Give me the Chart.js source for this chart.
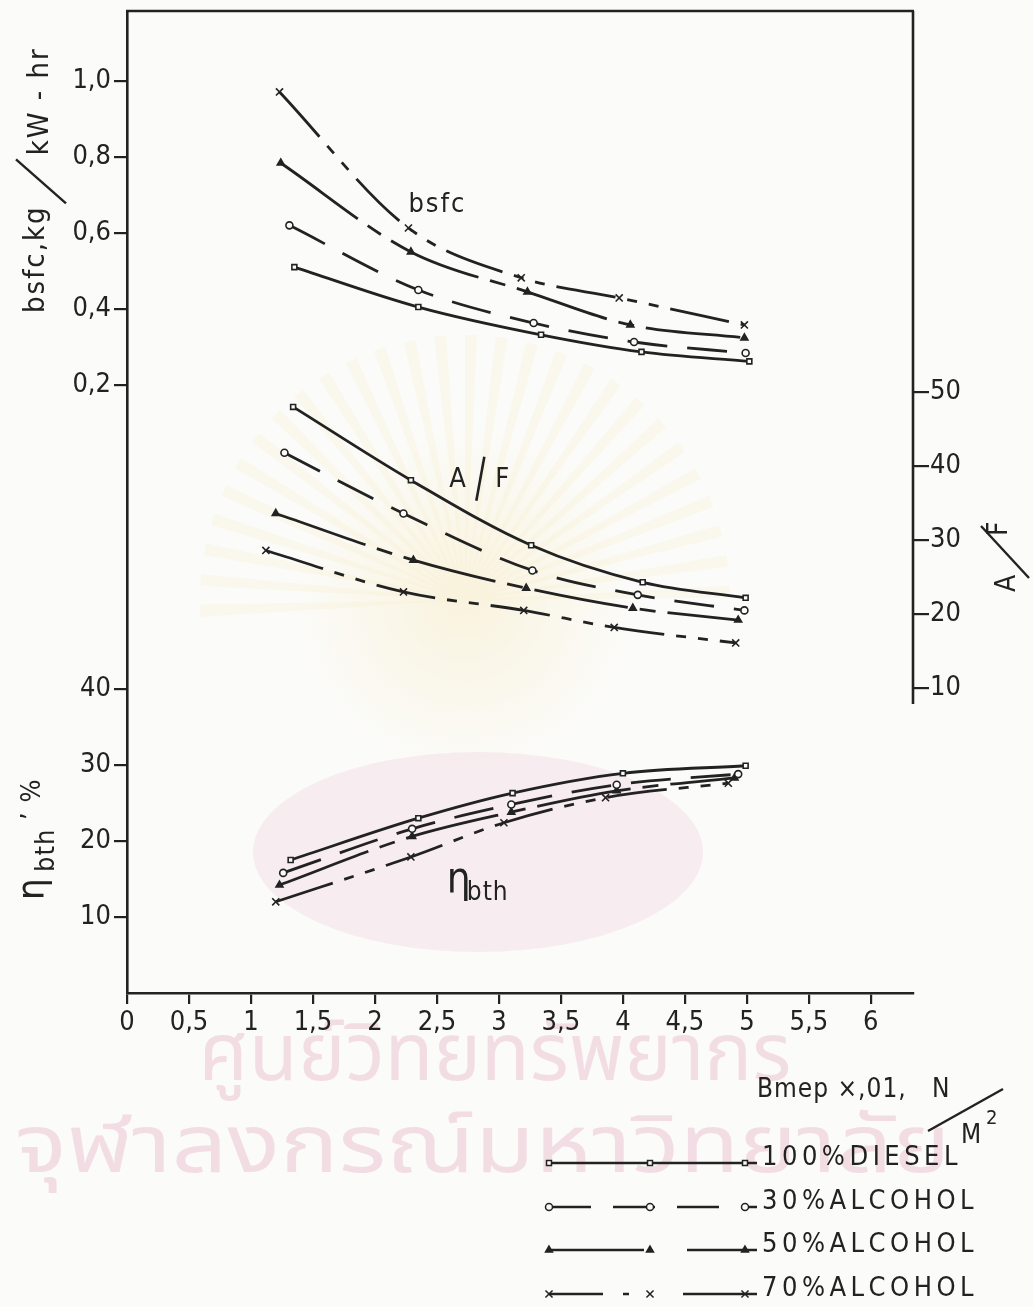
<!DOCTYPE html>
<html><head><meta charset="utf-8">
<script src="https://cdn.jsdelivr.net/npm/chart.js@4.4.1/dist/chart.umd.min.js"></script>
<style>
html,body{margin:0;padding:0;background:#fbfbf9;}
#wrap{position:relative;width:1033px;height:1307px;}
</style></head><body>
<div id="wrap"><canvas id="c" width="1033" height="1307"></canvas></div>
<script>
// ---------------- DATA ----------------
const seriesNames = ['100%DIESEL', '30%ALCOHOL', '50%ALCOHOL', '70%ALCOHOL'];
const xTicks   = [0, 0.5, 1, 1.5, 2, 2.5, 3, 3.5, 4, 4.5, 5, 5.5, 6];
const etaTicks = [10, 20, 30, 40];
const bsfcTicks = [0.2, 0.4, 0.6, 0.8, 1.0];
const afTicks  = [10, 20, 30, 40, 50];

// bsfc, kg/kW-hr
const bsfcX_diesel = [1.35, 2.35, 3.34, 4.15, 5.02];
const bsfc_diesel  = [0.51, 0.405, 0.332, 0.287, 0.262];
const bsfcX_alc30  = [1.31, 2.35, 3.28, 4.09, 4.99];
const bsfc_alc30   = [0.62, 0.45, 0.363, 0.313, 0.284];
const bsfcX_alc50  = [1.24, 2.29, 3.23, 4.06, 4.98];
const bsfc_alc50   = [0.784, 0.55, 0.445, 0.358, 0.324];
const bsfcX_alc70  = [1.23, 2.27, 3.18, 3.97, 4.98];
const bsfc_alc70   = [0.971, 0.613, 0.482, 0.429, 0.358];

// A/F
const afX_diesel = [1.34, 2.29, 3.26, 4.16, 4.99];
const af_diesel  = [48.0, 38.1, 29.3, 24.3, 22.2];
const afX_alc30  = [1.27, 2.23, 3.27, 4.12, 4.98];
const af_alc30   = [41.8, 33.6, 25.9, 22.6, 20.5];
const afX_alc50  = [1.20, 2.31, 3.22, 4.08, 4.93];
const af_alc50   = [33.6, 27.3, 23.5, 20.8, 19.2];
const afX_alc70  = [1.12, 2.23, 3.20, 3.93, 4.91];
const af_alc70   = [28.6, 23.0, 20.5, 18.2, 16.1];

// eta_bth, %
const etaX_diesel = [1.32, 2.35, 3.11, 4.00, 4.99];
const eta_diesel  = [17.5, 23.0, 26.3, 28.9, 29.9];
const etaX_alc30  = [1.26, 2.30, 3.10, 3.95, 4.93];
const eta_alc30   = [15.8, 21.6, 24.8, 27.4, 28.8];
const etaX_alc50  = [1.23, 2.30, 3.10, 3.95, 4.90];
const eta_alc50   = [14.2, 20.6, 23.8, 26.6, 28.3];
const etaX_alc70  = [1.20, 2.29, 3.04, 3.86, 4.85];
const eta_alc70   = [12.0, 17.9, 22.4, 25.7, 27.6];

const wmLine1 = 'ศูนย์วิทยทรัพยากร';
const wmLine2 = 'จุฬาลงกรณ์มหาวิทยาลัย';

// ---------------- STYLE ----------------
const ink = '#222222', bg = '#fbfbf9';
const FONT = '"DejaVu Sans Condensed", "DejaVu Sans", sans-serif';
// left axis: eta units; bsfc shares it: bsfc = (eta - 70) * 0.02
const ETA_MAX = 129.2;
const etaToBsfc = v => (v - 70) * 0.02;
const styles = [
  {dash: [], legendDash: [], point: 'rect', r: 3.5, fill: bg},
  {dash: [40, 20], legendDash: [42, 22], point: 'circle', r: 3.5, fill: bg},
  {dash: [95, 12, 16, 12], legendDash: [95, 43, 80], point: 'triangle', r: 4, fill: ink},
  {dash: [60, 12, 10, 12, 10, 12], legendDash: [54, 20, 6, 54, 80], point: 'crossRot', r: 5, fill: ink}
];
const pts = (xs, ys) => xs.map((x, i) => ({x, y: ys[i]}));
const groups = [
  {axis: 'yB', xs: [bsfcX_diesel, bsfcX_alc30, bsfcX_alc50, bsfcX_alc70], ys: [bsfc_diesel, bsfc_alc30, bsfc_alc50, bsfc_alc70]},
  {axis: 'yR', xs: [afX_diesel, afX_alc30, afX_alc50, afX_alc70], ys: [af_diesel, af_alc30, af_alc50, af_alc70]},
  {axis: 'yL', xs: [etaX_diesel, etaX_alc30, etaX_alc50, etaX_alc70], ys: [eta_diesel, eta_alc30, eta_alc50, eta_alc70]}
];
const datasets = [];
groups.forEach(g => {
  seriesNames.forEach((name, i) => {
    const s = styles[i];
    datasets.push({
      label: name, yAxisID: g.axis, data: pts(g.xs[i], g.ys[i]),
      borderColor: ink, borderWidth: 2.8, borderDash: s.dash,
      pointStyle: s.point, pointRadius: s.r, pointBorderWidth: 1.6,
      pointBackgroundColor: s.fill, pointBorderColor: ink,
      cubicInterpolationMode: 'monotone', fill: false
    });
  });
});

// ---------------- PLUGINS ----------------
const wmPlugin = {
  id: 'wm',
  beforeDraw(chart) {
    const ctx = chart.ctx;
    ctx.save();
    ctx.fillStyle = bg; ctx.fillRect(0, 0, chart.width, chart.height);
    // faint sun rays
    const cx = 465, cy = 600;
    for (let k = 0; k < 28; k++) {
      const a0 = Math.PI * 0.98 + k * Math.PI * 1.04 / 28, a1 = a0 + Math.PI / 70;
      ctx.fillStyle = 'rgba(249,238,205,0.3)';
      ctx.beginPath(); ctx.moveTo(cx, cy);
      ctx.arc(cx, cy, 265, a0, a1); ctx.closePath(); ctx.fill();
    }
    let g = ctx.createRadialGradient(cx, cy, 10, cx, cy, 170);
    g.addColorStop(0, 'rgba(248,238,205,0.6)'); g.addColorStop(1, 'rgba(248,238,205,0)');
    ctx.fillStyle = g; ctx.fillRect(cx - 180, cy - 180, 360, 360);
    // pink ellipse
    ctx.fillStyle = 'rgba(240,205,218,0.32)';
    ctx.beginPath(); ctx.ellipse(478, 852, 225, 100, 0, 0, Math.PI * 2); ctx.fill();
    // Thai watermark
    ctx.fillStyle = 'rgba(236,196,212,0.55)';
    ctx.font = '80px "Noto Sans Thai", "Noto Sans", "DejaVu Sans", sans-serif';
    ctx.textAlign = 'center'; ctx.textBaseline = 'alphabetic';
    ctx.fillText(wmLine1, 495, 1080);
    ctx.textAlign = 'left';
    ctx.save(); ctx.translate(15, 1172); ctx.scale(1.22, 1);
    ctx.fillText(wmLine2, 0, 0);
    ctx.restore();
    ctx.restore();
  }
};

function rot(ctx, x, y, fn) { ctx.save(); ctx.translate(x, y); ctx.rotate(-Math.PI / 2); fn(); ctx.restore(); }
function line(ctx, x1, y1, x2, y2, w) { ctx.lineWidth = w || 2; ctx.beginPath(); ctx.moveTo(x1, y1); ctx.lineTo(x2, y2); ctx.stroke(); }

const annoPlugin = {
  id: 'anno',
  afterDraw(chart) {
    const ctx = chart.ctx, a = chart.chartArea, sx = chart.scales.x, sL = chart.scales.yL, sB = chart.scales.yB, sR = chart.scales.yR;
    ctx.save();
    ctx.strokeStyle = ink; ctx.fillStyle = ink; ctx.setLineDash([]);
    // frame: top and partial right
    line(ctx, a.left - 1, a.top, a.right + 1, a.top, 2.6);
    line(ctx, a.right, a.top, a.right, sR.getPixelForValue(10) + 16, 2.6);
    ctx.textBaseline = 'alphabetic'; ctx.textAlign = 'left';
    // inline labels
    ctx.font = '27px ' + FONT; ctx.letterSpacing = '2px';
    ctx.fillText('bsfc', sx.getPixelForValue(2.27), sB.getPixelForValue(0.655));
    const ax = sx.getPixelForValue(2.6), ay = sR.getPixelForValue(37.2);
    ctx.fillText('A', ax, ay);
    line(ctx, ax + 35, ay - 30, ax + 27, ay + 14, 2.6);
    ctx.fillText('F', ax + 46, ay);
    const ex = sx.getPixelForValue(2.58), ey = sL.getPixelForValue(12.2);
    ctx.font = '42px ' + FONT; ctx.letterSpacing = '0px';
    ctx.fillText('η', ex, ey - 8);
    ctx.font = '26px ' + FONT; ctx.letterSpacing = '1px';
    ctx.fillText('bth', ex + 20, ey);
    // left axis title (bsfc)
    rot(ctx, 44, 313, () => {
      ctx.font = '29px ' + FONT; ctx.letterSpacing = '2px';
      ctx.fillText('bsfc,kg', 0, 0);
      const w = ctx.measureText('bsfc,kg').width;
      line(ctx, w + 2, 22, w + 46, -28, 2.4);
      ctx.fillText('kW - hr', w + 50, 4);
    });
    // left axis title (eta)
    rot(ctx, 50, 900, () => {
      ctx.font = '38px ' + FONT; ctx.letterSpacing = '0px';
      ctx.fillText('η', 0, -6);
      ctx.font = '27px ' + FONT; ctx.letterSpacing = '1px';
      ctx.fillText('bth', 28, 4);
      ctx.fillText('’ %', 80, -10);
    });
    // right axis title A/F
    rot(ctx, 1015, 592, () => {
      ctx.font = '28px ' + FONT; ctx.letterSpacing = '0px';
      ctx.fillText('A', 0, 0);
      line(ctx, 14, 14, 66, -34, 2.4);
      ctx.fillText('F', 56, -8);
    });
    // x axis title
    ctx.font = '26px ' + FONT; ctx.letterSpacing = '1px';
    ctx.fillText('Bmep ×,01,   N', 757, 1097);
    line(ctx, 928, 1131, 1003, 1089, 2.4);
    ctx.fillText('M', 961, 1143);
    ctx.font = '20px ' + FONT;
    ctx.fillText('2', 986, 1124);
    // legend
    const ly = [1163, 1207, 1250, 1294];
    const markX = [549, 650, 745];
    seriesNames.forEach((name, i) => {
      const ds = chart.data.datasets[i];
      ctx.strokeStyle = ink;
      ctx.setLineDash(styles[i].legendDash);
      line(ctx, 549, ly[i], 757, ly[i], 2.4);
      ctx.setLineDash([]);
      markX.forEach(mx => {
        ctx.fillStyle = ds.pointBackgroundColor; ctx.strokeStyle = ink; ctx.lineWidth = 1.5;
        Chart.helpers.drawPoint(ctx, {pointStyle: ds.pointStyle, radius: ds.pointRadius, rotation: 0, borderWidth: 1.5}, mx, ly[i]);
      });
      ctx.fillStyle = ink;
      ctx.font = '27px ' + FONT; ctx.letterSpacing = '4.5px';
      ctx.fillText(name, 762, ly[i] + 2);
    });
    ctx.restore();
  }
};

// ---------------- CHART ----------------
const tickFont = {family: FONT, size: 27};
const noPadV = s => { s.paddingTop = 0; s.paddingBottom = 0; };
new Chart(document.getElementById('c'), {
  type: 'line',
  data: {datasets},
  options: {
    responsive: false, animation: false, devicePixelRatio: 1,
    layout: {padding: {top: 11, left: 0, right: 0, bottom: 0}},
    plugins: {legend: {display: false}, tooltip: {enabled: false}},
    scales: {
      x: {
        type: 'linear', position: 'bottom', min: 0, max: 6.34,
        afterBuildTicks: s => { s.ticks = xTicks.map(v => ({value: v})); },
        afterFit: s => { s.height = 314; s.paddingLeft = 0; s.paddingRight = 0; },
        ticks: {color: ink, font: tickFont, padding: 3, maxRotation: 0, autoSkip: false,
                callback: v => String(v).replace('.', ',')},
        grid: {drawOnChartArea: false, drawTicks: true, tickLength: 11, color: ink, lineWidth: 2.2},
        border: {display: true, color: ink, width: 2.6}
      },
      yL: {
        type: 'linear', position: 'left', min: 0, max: ETA_MAX,
        afterBuildTicks: s => { s.ticks = etaTicks.concat(bsfcTicks.map(b => 70 + b / 0.02)).map(v => ({value: v})); },
        afterFit: s => { s.width = 127; noPadV(s); },
        ticks: {color: ink, font: tickFont, padding: 3, autoSkip: false,
                callback: v => v > 60 ? etaToBsfc(v).toFixed(1).replace('.', ',') : String(v)},
        grid: {drawOnChartArea: false, drawTicks: true, tickLength: 13, color: ink, lineWidth: 2.2},
        border: {display: true, color: ink, width: 2.6}
      },
      yB: {
        type: 'linear', display: false, min: etaToBsfc(0), max: etaToBsfc(ETA_MAX)
      },
      yR: {
        type: 'linear', position: 'right', min: -31.2, max: 101.5,
        afterBuildTicks: s => { s.ticks = afTicks.map(v => ({value: v})); },
        afterFit: s => { s.width = 120; noPadV(s); },
        ticks: {color: ink, font: tickFont, padding: 1, autoSkip: false},
        grid: {drawOnChartArea: false, drawTicks: true, tickLength: 16, color: ink, lineWidth: 2.2},
        border: {display: false}
      }
    }
  },
  plugins: [wmPlugin, annoPlugin]
});
</script>
</body></html>
